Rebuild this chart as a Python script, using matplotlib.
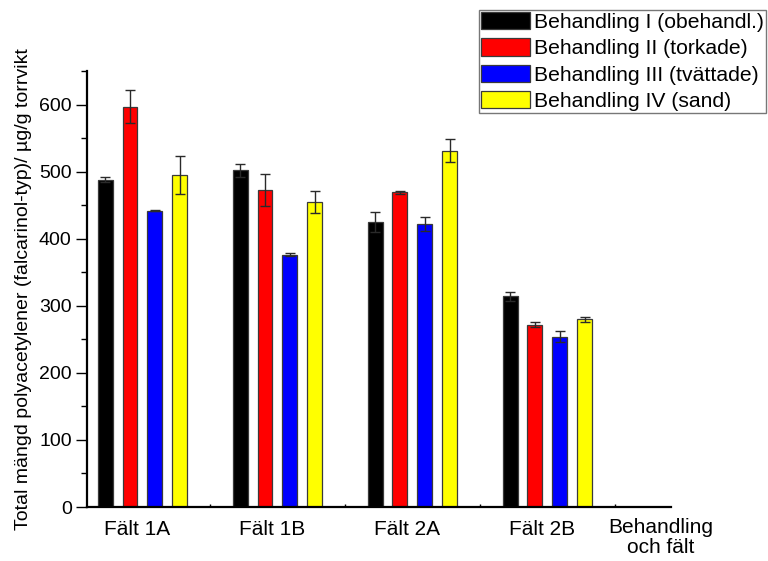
import matplotlib.pyplot as plt
import numpy as np

plt.rcParams['font.family'] = ['Liberation Sans', 'DejaVu Sans']

# medelvärden och standardavvikelser, µg/g torrvikt
falt = ['Fält 1A', 'Fält 1B', 'Fält 2A', 'Fält 2B']
behandlingar = ['Behandling I (obehandl.)', 'Behandling II (torkade)',
                'Behandling III (tvättade)', 'Behandling IV (sand)']
farger = ['#000000', '#ff0000', '#0000ff', '#ffff00']

beh1 = [488, 502, 425, 314]
beh2 = [597, 472, 469, 272]
beh3 = [442, 376, 422, 254]
beh4 = [495, 455, 531, 280]
fel1 = [4, 10, 15, 7]
fel2 = [24, 24, 2, 4]
fel3 = [1, 2, 11, 8]
fel4 = [28, 16, 17, 4]

varden = [beh1, beh2, beh3, beh4]
fel = [fel1, fel2, fel3, fel4]

fig = plt.figure(figsize=(7.68, 5.61), dpi=100)
ax = fig.add_axes([87 / 768, 54 / 561, 584 / 768, 436 / 561])

x = np.arange(len(falt))
steg = 0.185
bredd = 0.111
for i in range(4):
    pos = x + (i - 1.5) * steg
    ax.bar(pos, varden[i], bredd, color=farger[i], edgecolor='#3a3a3a',
           linewidth=0.9, label=behandlingar[i], zorder=2)
    ax.errorbar(pos, varden[i], yerr=fel[i], fmt='none', ecolor='#2a2a2a',
                elinewidth=1, capsize=3.5, capthick=1, zorder=3)

ax.set_xlim(-0.411, 3.915)
ax.set_ylim(0, 650)
ax.set_yticks(range(0, 700, 100))
ax.set_yticks(range(50, 700, 100), minor=True)
ax.set_xticks([])
ax.set_xticks(x + 0.5, minor=True)
ax.tick_params(axis='y', which='major', length=8, width=1, labelsize=14, pad=3)
ax.tick_params(axis='y', which='minor', length=4.5, width=1)
ax.tick_params(axis='x', which='minor', length=2, width=1, direction='in')

for side in ['top', 'right']:
    ax.spines[side].set_visible(False)
for side in ['left', 'bottom']:
    ax.spines[side].set_linewidth(1.6)

# fältnamn under varje grupp
for xi, namn in zip(x, falt):
    ax.text(xi - 0.04, -0.03, namn, transform=ax.get_xaxis_transform(),
            ha='center', va='top', fontsize=15)
ax.text(0.983, -0.025, 'Behandling\noch fält', transform=ax.transAxes,
        ha='center', va='top', fontsize=15, linespacing=1.1)

ax.set_ylabel('Total mängd polyacetylener (falcarinol-typ)/ µg/g torrvikt',
              fontsize=14)
ax.yaxis.set_label_coords(-0.094, 0.5)

leg = ax.legend(loc='upper left', bbox_to_anchor=(479 / 768, 1 - 10 / 561),
                bbox_transform=fig.transFigure, borderaxespad=0, fontsize=15.2,
                frameon=True, fancybox=False, edgecolor='#555555',
                borderpad=0.1, labelspacing=0.3, handlelength=2.3,
                handleheight=0.88, handletextpad=0.2)
leg.get_frame().set_linewidth(1)

fig.savefig('out.png', dpi=100)
